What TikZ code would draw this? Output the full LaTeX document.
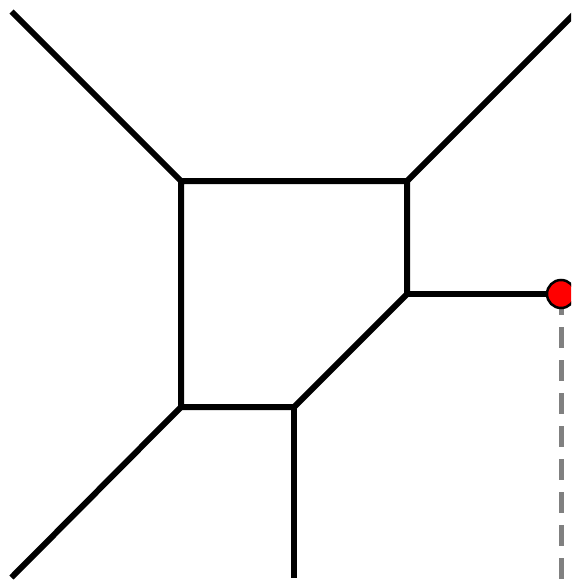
\documentclass[tikz,border=0pt]{standalone}
\begin{document}
\begin{tikzpicture}[x=1pt,y=-1pt,
  edge/.style={line width=6pt,black},
  leg/.style={line width=5pt,draw={rgb,255:red,128;green,128;blue,128},dash pattern=on 21pt off 12pt},
  dot/.style={circle,fill=red,draw=black,line width=2.5pt,minimum size=28pt,inner sep=0pt}]
\useasboundingbox (0,0) rectangle (571,581);
\clip (0,0) rectangle (571,581);
\coordinate (a) at (181,181);
\coordinate (b) at (407,181);
\coordinate (c) at (407,294);
\coordinate (d) at (294,407);
\coordinate (e) at (181,407);
\coordinate (ta) at (11.5,11.5);
\coordinate (tb) at (576.5,11.5);
\coordinate (be) at (11.5,577.5);
\coordinate (bd) at (294,577.5);
\coordinate (p) at (561,294);
\coordinate (q) at (561,579);
\draw[leg] (p) -- (q);
\draw[edge] (a) -- (b) -- (c) -- (d) -- (e) -- cycle;
\draw[edge] (a) -- (ta);
\draw[edge] (b) -- (tb);
\draw[edge] (e) -- (be);
\draw[edge] (d) -- (bd);
\node[dot] (pd) at (p) {};
\draw[edge] (c) -- (pd);
\end{tikzpicture}
\end{document}
